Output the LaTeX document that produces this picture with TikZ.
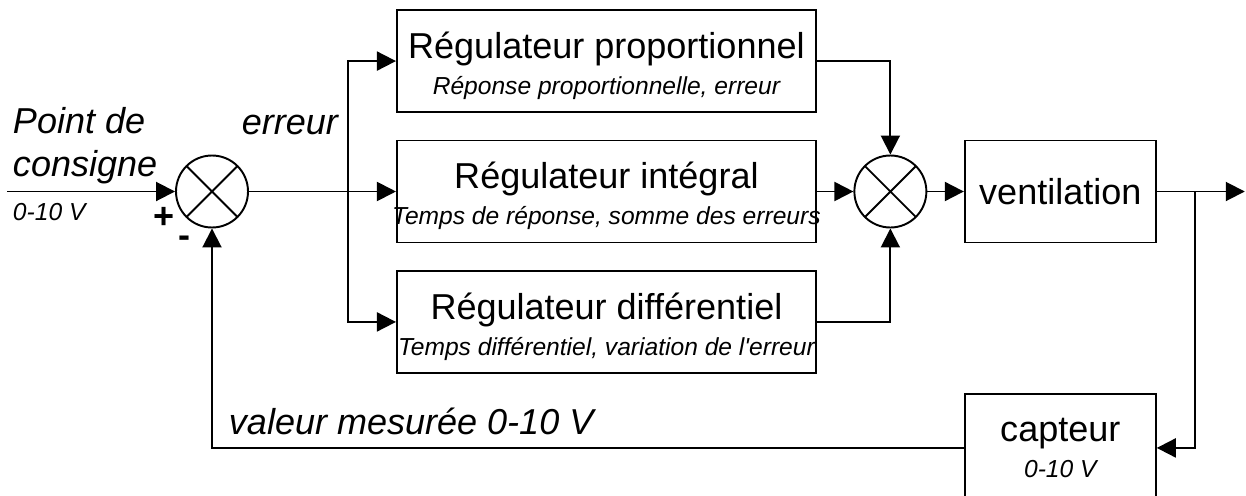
\documentclass[tikz,border=0pt]{standalone}
\usepackage{fontspec}
\setmainfont{Liberation Sans}
\usetikzlibrary{arrows.meta,positioning}

\begin{document}
\begin{tikzpicture}[
  node distance=5.3mm and 7.3mm,
  line width=1.1pt,
  box/.style={draw,minimum height=20.4mm,inner sep=0pt,align=center,font=\fontsize{20.5}{20.5}\selectfont},
  reg/.style={box,minimum width=83.8mm},
  sum/.style={draw,circle,minimum size=14.4mm,inner sep=0pt,path picture={\draw (path picture bounding box.south west) -- (path picture bounding box.north east) (path picture bounding box.north west) -- (path picture bounding box.south east);}},
  lbl/.style={font=\fontsize{20.5}{24}\selectfont\itshape,inner sep=0pt},
  small/.style={font=\fontsize{14}{16}\selectfont\itshape,inner sep=0pt},
  sign/.style={font=\fontsize{20.5}{24}\selectfont\bfseries,inner sep=0pt},
  arrow/.style={-{Triangle[length=3.8mm,width=3.8mm]}}
]
\useasboundingbox (0,0) rectangle (249.2mm,-99mm);
\node[sum] (sum1) at (42.4mm,-38.3mm) {};
\node[reg,right=29.4mm of sum1] (integ) {\rule{0pt}{7.2mm}Régulateur intégral\\\makebox[0pt]{\fontsize{14}{20.5}\selectfont\itshape Temps de réponse, somme des erreurs}};
\node[reg,above=of integ] (prop) {\rule{0pt}{7.2mm}Régulateur proportionnel\\{\fontsize{14}{20.5}\selectfont\itshape Réponse proportionnelle, erreur}};
\node[reg,below=of integ] (diff) {\rule{0pt}{7.2mm}Régulateur différentiel\\\makebox[0pt]{\fontsize{14}{20.5}\selectfont\itshape Temps différentiel, variation de l\textquotesingle erreur}};
\node[sum,right=of integ] (sum2) {};
\node[box,minimum width=38.2mm,right=of sum2] (vent) {ventilation};
\node[box,minimum width=38.2mm,minimum height=21.4mm,below=30mm of vent] (capt) {capteur\\{\fontsize{14}{20.5}\selectfont\itshape 0-10 V}};
\coordinate[left=33.6mm of sum1.west] (in);
\coordinate[right=19.8mm of sum1.east] (split);
\coordinate[right=7.6mm of vent.east] (tap);
\coordinate[right=17.6mm of vent.east] (out);
\coordinate (fb) at (sum1.south |- capt.west);
\node[lbl,align=left,anchor=south west,xshift=1mm,yshift=1.4mm] (consigne) at (in) {Point de\\consigne};
\node[small,anchor=north west,xshift=1mm,yshift=-2.1mm] (range) at (in) {0-10 V};
\node[lbl,anchor=base east] (erreur) at ([shift={(-1.8mm,11.5mm)}]split) {erreur};
\node[lbl,anchor=base west] (mesure) at ([shift={(3.2mm,2.6mm)}]fb) {valeur mesurée 0-10 V};
\node[sign] (plus) at ([shift={(-9.6mm,-5.3mm)}]sum1) {+};
\node[sign] (minus) at ([shift={(-5.6mm,-10.1mm)}]sum1) {-};
\draw[arrow] (in) -- (sum1);
\draw[arrow] (sum1) -- (integ);
\draw[arrow] (split) |- (prop);
\draw[arrow] (split) |- (diff);
\draw[arrow] (prop) -| (sum2);
\draw[arrow] (integ) -- (sum2);
\draw[arrow] (diff) -| (sum2);
\draw[arrow] (sum2) -- (vent);
\draw[arrow] (vent) -- (out);
\draw[arrow] (tap) |- (capt);
\draw[arrow] (capt) -| (sum1);
\end{tikzpicture}
\end{document}
